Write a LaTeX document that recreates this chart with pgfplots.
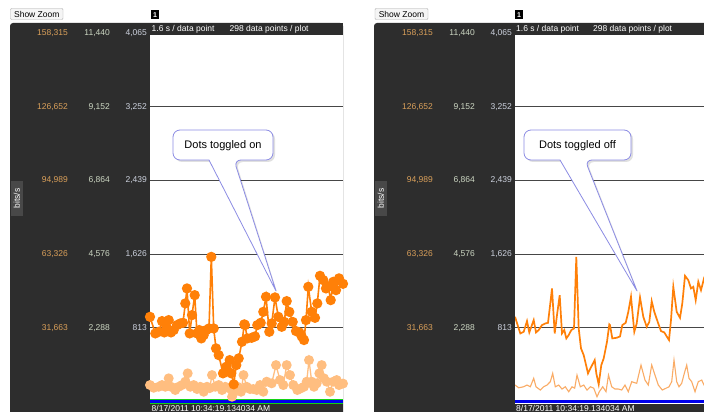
\documentclass[border=0pt]{standalone}
\usepackage{pgfplots}
\usepackage{pgfplotstable}
\pgfplotsset{compat=1.18}
\usepackage{fontspec}
\setmainfont{Liberation Sans}
\definecolor{panel}{RGB}{45,45,45}
\definecolor{panelhi}{RGB}{72,72,72}
\definecolor{darkor}{RGB}{255,128,8}
\definecolor{lightor}{RGB}{255,190,128}
\definecolor{lightorline}{RGB}{250,172,102}
\definecolor{labA}{RGB}{218,160,90}
\definecolor{labB}{RGB}{205,215,195}
\definecolor{labC}{RGB}{205,210,222}
\definecolor{gridc}{RGB}{70,70,70}
\definecolor{callout}{RGB}{140,140,228}
\definecolor{basegreen}{RGB}{20,210,20}
\definecolor{baseblue}{RGB}{0,0,235}
\newcommand\lab[3]{\makebox[42pt][r]{\textcolor{labA}{#1}}\makebox[42pt][r]{\textcolor{labB}{#2}}\makebox[37pt][r]{\textcolor{labC}{#3}}}
\newcommand\sm{\fontsize{8.5}{10}\selectfont}

\pgfplotstableread{
x y
0 936
5.3 753
8.7 771
12 889
14.3 764
16.3 826
18.7 900
21 764
23.7 790
27 845
30.3 863
33 870
35.3 1084
37 1249
39.7 753
42 955
44.7 1175
47 753
49.3 790
51.3 698
53.7 735
56.3 790
59 808
61.3 1597
63.7 808
66 588
68.7 514
73 313
76.3 386
79.7 459
81.3 313
83.7 192
86.3 404
88.7 478
92 661
94.3 853
95 845
97.3 698
101.7 705
105 720
107.3 845
110.7 870
113.3 991
116 1157
119.3 771
121.7 863
125 1150
128.3 936
131.7 826
134.3 880
136.7 1109
139.3 991
142.7 880
146 779
149.3 764
151.7 720
154 680
156 900
158.3 1267
161.7 991
165 925
167.3 1084
170 1388
173.3 1340
176 1249
178.3 1267
180.7 1120
183.3 1322
186 1230
189 1360
193 1300
}\darkdata

\pgfplotstableread{
x y
0 184
3.7 154
8.7 165
12 184
15.3 165
18.7 258
21 165
25.3 129
28.7 165
32 184
35.3 221
37.7 313
40.3 165
43.7 184
47 140
50.3 165
53.7 110
57 165
59.7 150
62 294
65.3 165
68.7 184
72 129
75.3 165
78.7 150
82 55
84.3 110
87.7 165
91 110
93.5 294
96.7 165
100 140
103.3 140
106.7 129
110 184
113.3 110
116.7 221
121.7 203
126 404
130 239
133.3 184
136.7 404
140 294
143.3 184
147.3 129
150.7 147
154 165
156.7 221
159 459
161.7 221
164 165
166.7 203
169.3 313
171.7 404
174 258
176.7 221
180 110
183.3 221
186.7 239
189 184
193 200
}\lightdata

\pgfplotsset{panelaxis/.style={
  scale only axis, width=193pt, height=371pt,
  xmin=0, xmax=193, ymin=-25, ymax=4065,
  axis line style={draw=none},
  xtick=\empty,
  ytick={813,1626,2439,3252,4065},
  yticklabels={{\lab{31,663}{2,288}{813}},{\lab{63,326}{4,576}{1,626}},{\lab{94,989}{6,864}{2,439}},{\lab{126,652}{9,152}{3,252}},{\lab{158,315}{11,440}{4,065}}},
  yticklabel style={font=\sm, inner sep=0pt, anchor=east, xshift=-3pt},
  major tick length=0pt,
  ymajorgrids, grid style={gridc, line width=1pt},
  axis background/.style={fill=white},
  anchor=south west,
}}

\begin{document}
\begin{tikzpicture}[x=1pt,y=1pt]
\useasboundingbox (0,0) rectangle (704,412);
\clip (0,0) rectangle (704,412);
\fill[white] (0,0) rectangle (704,412);
% dark panels
\fill[panel, rounded corners=3pt] (10,-6) rectangle (343,389);
\fill[panel, rounded corners=3pt] (374,-6) rectangle (712,389);
\fill[panelhi] (11,196) rectangle (22.5,231);
\fill[panelhi] (375,196) rectangle (386.5,231);

% left panel: dots on
\begin{axis}[panelaxis, at={(150pt,8pt)}]
\addplot[lightor, line width=1.3pt, mark=*, mark size=4.3pt, mark options={fill=lightor, draw=lightor}] table {\lightdata};
\addplot[darkor, line width=1.6pt, mark=*, mark size=4.3pt, mark options={fill=darkor, draw=darkor}] table {\darkdata};
\addplot[basegreen, line width=5.5pt] coordinates {(0,0) (193,0)};
\addplot[baseblue, line width=3pt] coordinates {(0,0) (193,0)};
\end{axis}

% right panel: dots off
\begin{axis}[panelaxis, at={(515pt,8pt)}]
\addplot[lightorline, line width=1.1pt] table {\lightdata};
\addplot[darkor, line width=1.7pt] table {\darkdata};
\addplot[baseblue, line width=2.5pt] coordinates {(0,0) (193,0)};
\end{axis}

% header bars
\fill[panel] (150,377) rectangle (343,389);
\fill[panel] (515,377) rectangle (704,389);
\node[anchor=west, white, font=\sm, inner sep=0pt] at (151.5,383) {1.6 s / data point};
\node[anchor=west, white, font=\sm, inner sep=0pt] at (229.5,383) {298 data points / plot};
\node[anchor=west, white, font=\sm, inner sep=0pt] at (516,383) {1.6 s / data point};
\node[anchor=west, white, font=\sm, inner sep=0pt] at (593,383) {298 data points / plot};

% bottom strips
\node[anchor=west, white, font=\sm, inner sep=0pt] at (151.5,3.6) {8/17/2011 10:34:19.134034 AM};
\node[anchor=west, white, font=\sm, inner sep=0pt] at (516,3.6) {8/17/2011 10:34:19.134034 AM};

% bits/s
\node[rotate=90, white, font=\sm, inner sep=0pt] at (16.8,213.5) {bits/s};
\node[rotate=90, white, font=\sm, inner sep=0pt] at (380.8,213.5) {bits/s};

% toolbar
\draw[fill=gray!8, draw=gray!65, rounded corners=1pt] (10.5,392.5) rectangle (63,403.5);
\node[font=\sm, inner sep=0pt] at (36.8,398) {Show Zoom};
\draw[fill=gray!8, draw=gray!65, rounded corners=1pt] (375,392.5) rectangle (428,403.5);
\node[font=\sm, inner sep=0pt] at (401.5,398) {Show Zoom};
\fill[black] (151,392.5) rectangle (159,401.5);
\node[white, font=\fontsize{7}{8}\selectfont\bfseries, inner sep=0pt] at (155,397) {1};
\fill[black] (515,392.5) rectangle (523,401.5);
\node[white, font=\fontsize{7}{8}\selectfont\bfseries, inner sep=0pt] at (519,397) {1};

% callouts
\fill[black, opacity=0.12] (175,265) [rounded corners=7pt] -- (175,280) -- (275,280) -- (275,250) -- (236,250) [sharp corners] -- (277,120) -- (211,250) [rounded corners=7pt] -- (175,250) -- cycle;
\draw[callout, fill=white, line width=0.8pt] (173,267) [rounded corners=7pt] -- (173,282) -- (273,282) -- (273,252) -- (234,252) [sharp corners] -- (276,121) -- (209,252) [rounded corners=7pt] -- (173,252) -- cycle;
\node[font=\fontsize{11}{13}\selectfont, inner sep=0pt] at (223,266) {Dots toggled on};

\fill[black, opacity=0.12] (526,265) [rounded corners=7pt] -- (526,280) -- (633,280) -- (633,250) -- (587,250) [sharp corners] -- (638,120) -- (562,250) [rounded corners=7pt] -- (526,250) -- cycle;
\draw[callout, fill=white, line width=0.8pt] (524,267) [rounded corners=7pt] -- (524,282) -- (631,282) -- (631,252) -- (585,252) [sharp corners] -- (637,121) -- (560,252) [rounded corners=7pt] -- (524,252) -- cycle;
\node[font=\fontsize{11}{13}\selectfont, inner sep=0pt] at (577.5,266) {Dots toggled off};
\end{tikzpicture}
\end{document}
